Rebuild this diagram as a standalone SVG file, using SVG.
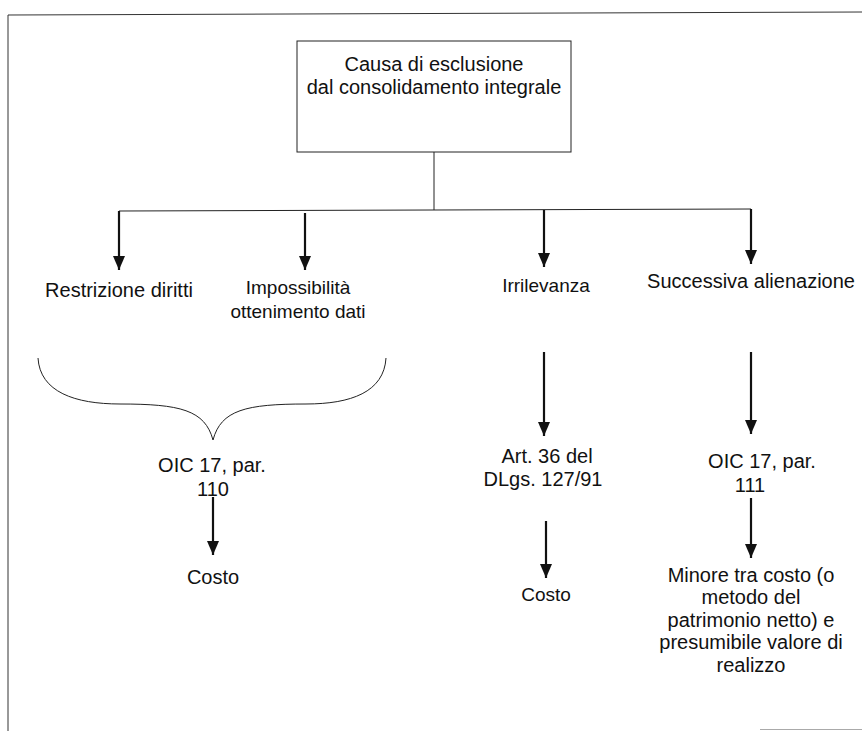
<svg xmlns="http://www.w3.org/2000/svg" width="862" height="731" viewBox="0 0 862 731">
<style>
  text { font-family: "Liberation Sans", Arial, sans-serif; font-size: 20px; fill: #111; text-anchor: middle; }
  .m { font-size: 19px; }
  .thin { stroke: #222; stroke-width: 1; fill: none; }
  .arr { stroke: #111; stroke-width: 2.2; fill: none; marker-end: url(#ah); }
  .frame { stroke: #333; stroke-width: 1; fill: none; }
</style>
<defs>
  <marker id="ah" viewBox="0 0 14 12" refX="14" refY="6" markerWidth="14" markerHeight="12" markerUnits="userSpaceOnUse" orient="auto">
    <path d="M0,0 L14,6 L0,12 z" fill="#111"/>
  </marker>
</defs>
<rect width="862" height="731" fill="#fff"/>
<g id="frame">
  <line class="frame" x1="8" y1="15" x2="862" y2="12"/>
  <line class="frame" x1="8" y1="15" x2="8" y2="731"/>
  <line x1="760" y1="729.5" x2="862" y2="729.5" stroke="#aaa" stroke-width="1"/>
</g>
<g id="connectors">
  <line class="thin" x1="434" y1="152" x2="434" y2="210"/>
  <line class="thin" x1="119" y1="211" x2="751" y2="209"/>
  <line class="arr" x1="119" y1="211" x2="119" y2="270"/>
  <line class="arr" x1="305" y1="213" x2="305" y2="270"/>
  <line class="arr" x1="544" y1="210" x2="544" y2="267"/>
  <line class="arr" x1="751" y1="209" x2="751" y2="264"/>
  <path class="thin" d="M38,358 C40,392 75,404 120,404 C180,404 205,410 213,440 C221,410 246,404 306,404 C351,404 384,392 386,358"/>
  <line class="arr" x1="213" y1="497" x2="213" y2="555"/>
  <line class="arr" x1="544" y1="352" x2="544" y2="436"/>
  <line class="arr" x1="546" y1="521" x2="546" y2="578"/>
  <line class="arr" x1="751" y1="352" x2="751" y2="434"/>
  <line class="arr" x1="751" y1="498" x2="751" y2="558"/>
</g>
<g id="root">
  <rect x="297" y="41" width="274" height="111" fill="none" stroke="#222" stroke-width="1"/>
  <text x="434" y="71">Causa di esclusione</text>
  <text x="434" y="94">dal consolidamento integrale</text>
</g>
<g id="restrizione"><text x="119" y="297">Restrizione diritti</text></g>
<g id="impossibilita">
  <text class="m" x="298" y="294">Impossibilità</text>
  <text class="m" x="298" y="318">ottenimento dati</text>
</g>
<g id="irrilevanza"><text class="m" x="546" y="292">Irrilevanza</text></g>
<g id="alienazione"><text x="751" y="288">Successiva alienazione</text></g>
<g id="oic110">
  <text x="212" y="472">OIC 17, par.</text>
  <text x="213" y="496">110</text>
</g>
<g id="costo1"><text x="213" y="584">Costo</text></g>
<g id="art36">
  <text x="547" y="463">Art. 36 del</text>
  <text x="543" y="486">DLgs. 127/91</text>
</g>
<g id="costo2"><text class="m" x="546" y="601">Costo</text></g>
<g id="oic111">
  <text x="762" y="468">OIC 17, par.</text>
  <text x="750" y="492">111</text>
</g>
<g id="minore">
  <text x="751" y="582">Minore tra costo (o</text>
  <text x="751" y="604">metodo del</text>
  <text x="751" y="627">patrimonio netto) e</text>
  <text x="751" y="649">presumibile valore di</text>
  <text x="751" y="672">realizzo</text>
</g>
</svg>
